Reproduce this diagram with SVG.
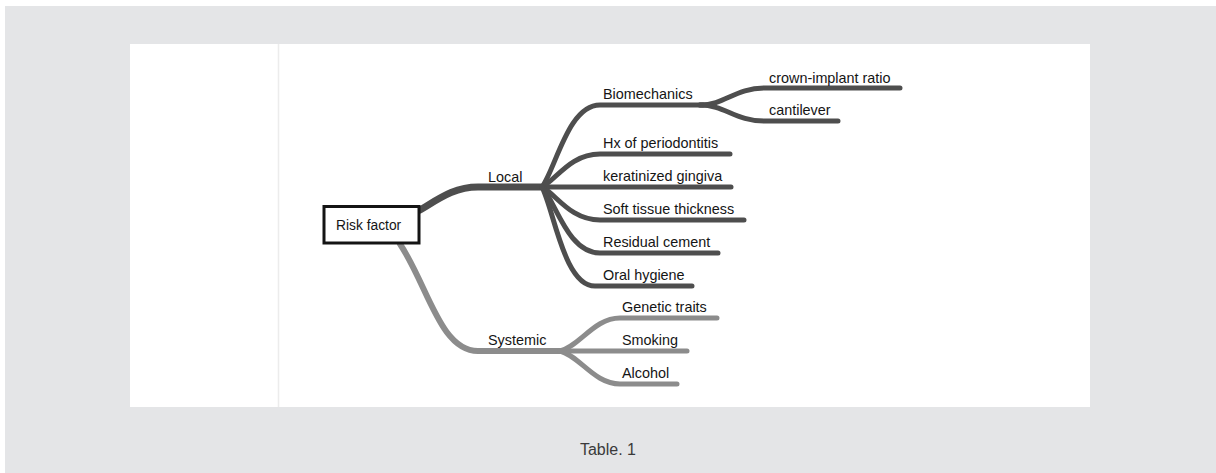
<svg xmlns="http://www.w3.org/2000/svg" width="1216" height="473" viewBox="0 0 1216 473">
<style>
.lbl{font-family:"Liberation Sans",Arial,sans-serif;font-size:14.4px;fill:#151515}
.dk{fill:none;stroke:#4e4e4e;stroke-linecap:round;stroke-width:5}
.lt{fill:none;stroke:#8c8c8c;stroke-linecap:round;stroke-width:5}
</style>
<rect x="0" y="0" width="1216" height="473" fill="#ffffff"/>
<rect x="5" y="6" width="1211" height="467" fill="#e4e5e7"/>
<rect x="130" y="44" width="960" height="363" fill="#ffffff"/>
<line x1="278.5" y1="44" x2="278.5" y2="407" stroke="#ececec" stroke-width="1.5"/>
<g id="connectors">
<path class="dk" style="stroke-width:7" d="M420,210 C440,198 455,187 478,187 L542,187"/>
<path class="lt" style="stroke-width:6" d="M400,244 C428,286 440,351 478,351 L562,351"/>
<path class="dk" d="M542,187 C556,168 568,105 600,105 L703,105"/>
<path class="dk" d="M542,187 C556,180 570,154 600,154 L730,154"/>
<path class="dk" d="M542,187 L731,187"/>
<path class="dk" d="M542,187 C556,194 570,220 600,220 L744,220"/>
<path class="dk" d="M542,187 C556,203 568,253 600,253 L718,253"/>
<path class="dk" d="M542,187 C554,210 564,286 595,286 L692,286"/>
<path class="dk" d="M700,105 C725,105 735,88 765,88 L900,88"/>
<path class="dk" d="M700,105 C725,105 735,121 765,121 L838,121"/>
<path class="lt" d="M560,351 C580,346 594,318 620,318 L717,318"/>
<path class="lt" d="M560,351 L687,351"/>
<path class="lt" d="M560,351 C580,356 594,384 620,384 L677,384"/>
</g>
<g id="risk-factor">
<rect x="324" y="206.5" width="95" height="36.5" fill="#ffffff" stroke="#141414" stroke-width="3"/>
<text class="lbl" x="336" y="229.5" style="font-size:13.8px">Risk factor</text>
</g>
<g id="local"><text class="lbl" x="488" y="182">Local</text></g>
<g id="systemic"><text class="lbl" x="488" y="345">Systemic</text></g>
<g id="biomechanics"><text class="lbl" x="603" y="99">Biomechanics</text></g>
<g id="crown-implant-ratio"><text class="lbl" x="769" y="83">crown-implant ratio</text></g>
<g id="cantilever"><text class="lbl" x="769" y="115">cantilever</text></g>
<g id="hx-periodontitis"><text class="lbl" x="603" y="148">Hx of periodontitis</text></g>
<g id="keratinized-gingiva"><text class="lbl" x="603" y="181">keratinized gingiva</text></g>
<g id="soft-tissue"><text class="lbl" x="603" y="214">Soft tissue thickness</text></g>
<g id="residual-cement"><text class="lbl" x="603" y="247">Residual cement</text></g>
<g id="oral-hygiene"><text class="lbl" x="603" y="280">Oral hygiene</text></g>
<g id="genetic-traits"><text class="lbl" x="622" y="312">Genetic traits</text></g>
<g id="smoking"><text class="lbl" x="622" y="345">Smoking</text></g>
<g id="alcohol"><text class="lbl" x="622" y="378">Alcohol</text></g>
<text x="608" y="455" text-anchor="middle" style="font-family:'Liberation Sans',Arial,sans-serif;font-size:16px;fill:#3a3a3a">Table. 1</text>
</svg>
